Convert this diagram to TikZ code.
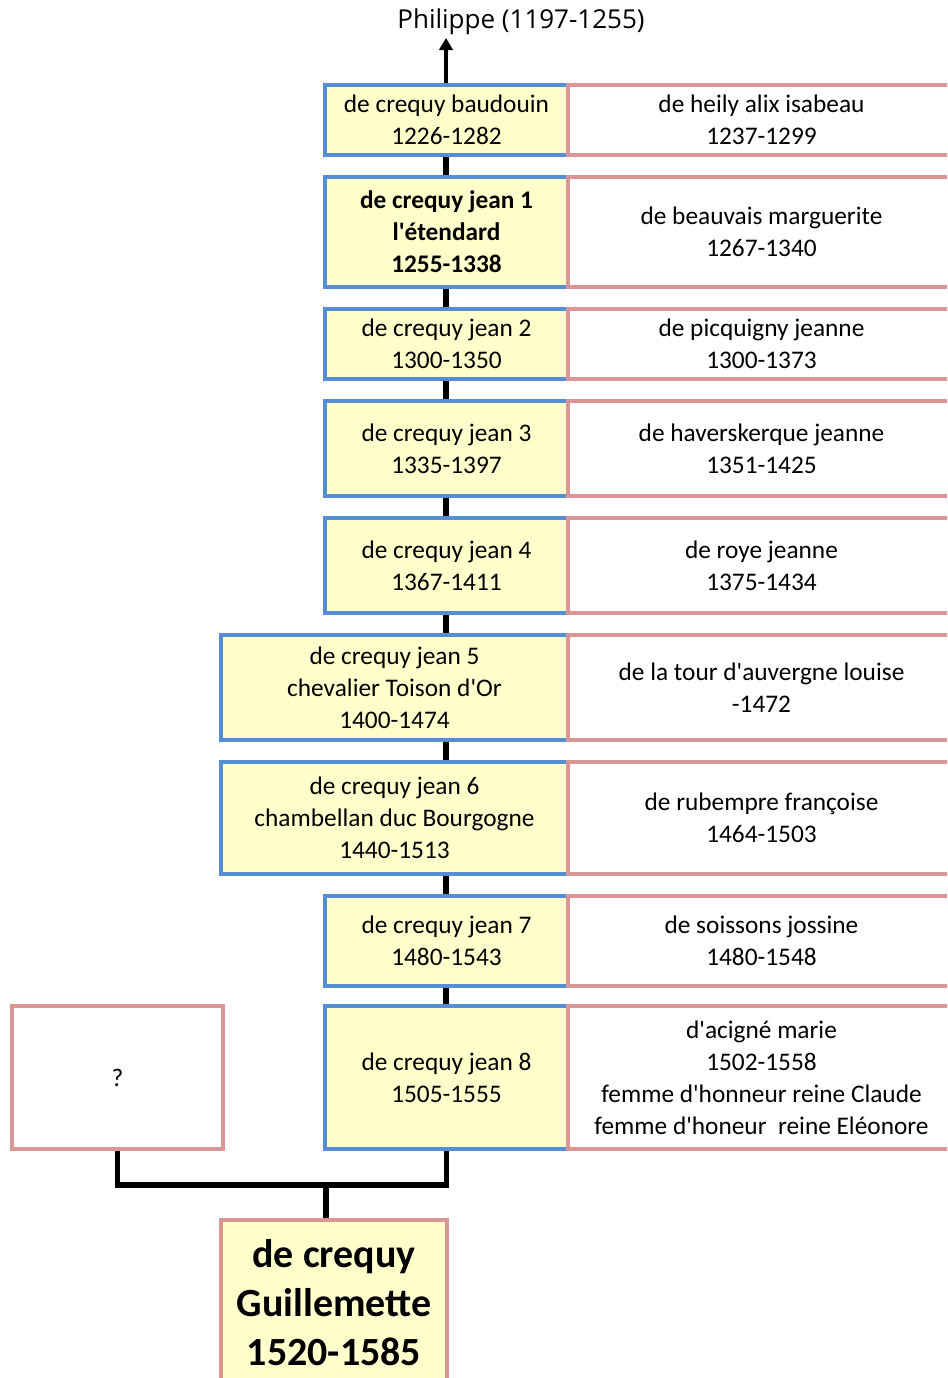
\documentclass[tikz,border=0pt]{standalone}
\usepackage{fontspec}
\setmainfont{Carlito}[Ligatures=TeXOff]
\newfontfamily\phfont{Open Sans}[Ligatures=TeXOff]
\usetikzlibrary{arrows.meta}
\definecolor{myblue}{HTML}{558ED5}
\definecolor{mypink}{HTML}{D99694}
\definecolor{myyellow}{HTML}{FFFFCC}
\newcommand{\famnode}[7]{\node[#1, minimum width={(#4-#3)*0.75pt}, minimum height={(#6-#5)*0.75pt}] (#2) at ({(#3+#4)/2},{(#5+#6)/2}) {#7};}
\begin{document}
\begin{tikzpicture}[x=0.75pt,y=-0.75pt,
  person/.style={draw=myblue, fill=myyellow, line width=3.5pt, inner sep=0pt, align=center, font=\fontsize{19}{24}\selectfont},
  spouse/.style={draw=mypink, fill=white, line width=3.5pt, inner sep=0pt, align=center, font=\fontsize{19}{24}\selectfont},
  child/.style={draw=mypink, fill=myyellow, line width=3.5pt, inner sep=0pt, align=center, font=\fontsize{30}{37}\selectfont\bfseries},
  link/.style={line width=4pt, black},
  up/.style={line width=3.5pt, black, -{Triangle[width=10pt,length=9pt]}}]
\useasboundingbox (0,0) rectangle (947,1378);
\clip (0,0) rectangle (947,1378);
\coordinate (spine) at (446,0);
% persons
\famnode{person}{b0}{325}{568}{85}{155}{de crequy baudouin\\1226-1282}
\famnode{spouse}{s0}{568}{955}{85}{155}{de heily alix isabeau\\1237-1299}
\famnode{person,font=\fontsize{19}{24}\selectfont\bfseries}{b1}{325}{568}{177}{287}{de crequy jean 1\\l'étendard\\1255-1338}
\famnode{spouse}{s1}{568}{955}{177}{287}{de beauvais marguerite\\1267-1340}
\famnode{person}{b2}{325}{568}{309}{379}{de crequy jean 2\\1300-1350}
\famnode{spouse}{s2}{568}{955}{309}{379}{de picquigny jeanne\\1300-1373}
\famnode{person}{b3}{325}{568}{401}{496}{de crequy jean 3\\1335-1397}
\famnode{spouse}{s3}{568}{955}{401}{496}{de haverskerque jeanne\\1351-1425}
\famnode{person}{b4}{325}{568}{518}{613}{de crequy jean 4\\1367-1411}
\famnode{spouse}{s4}{568}{955}{518}{613}{de roye jeanne\\1375-1434}
\famnode{person}{b5}{221}{568}{635}{740}{de crequy jean 5\\chevalier Toison d'Or\\1400-1474}
\famnode{spouse}{s5}{568}{955}{635}{740}{de la tour d'auvergne louise\\-1472}
\famnode{person}{b6}{221}{568}{762}{874}{de crequy jean 6\\chambellan duc Bourgogne\\1440-1513}
\famnode{spouse}{s6}{568}{955}{762}{874}{de rubempre françoise\\1464-1503}
\famnode{person}{b7}{325}{568}{896}{986}{de crequy jean 7\\1480-1543}
\famnode{spouse}{s7}{568}{955}{896}{986}{de soissons jossine\\1480-1548}
\famnode{person}{b8}{325}{568}{1006}{1149}{de crequy jean 8\\1505-1555}
\famnode{spouse}{s8}{568}{955}{1006}{1149}{d'acigné marie\\1502-1558\\femme d'honneur reine Claude\\femme d'honeur\ \ reine Eléonore}
\famnode{spouse}{q}{12}{223}{1006}{1149}{?}
\famnode{child}{g}{221}{447}{1220}{1385}{de crequy\\Guillemette\\1520-1585}
% title
\node[font=\phfont\fontsize{19.5}{24}\selectfont] (ph) at (521,22) {Philippe (1197-1255)};
% spine
\foreach \a/\b in {b0/b1,b1/b2,b2/b3,b3/b4,b4/b5,b5/b6,b6/b7,b7/b8}
  \draw[link] (\a.south -| spine) -- (\b.north -| spine);
\coordinate (top) at (446,38);
\draw[up] (b0.north -| spine) -- (top);
% parents to child
\coordinate (jn) at (326,1185);
\draw[link] (q.south) |- (jn) -| (b8.south);
\draw[link] (jn) -- (jn |- g.north);
\end{tikzpicture}
\end{document}
